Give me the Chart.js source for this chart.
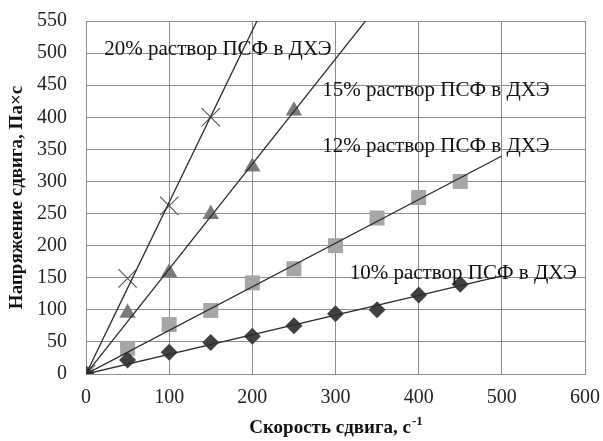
<!DOCTYPE html>
<html>
<head>
  <meta charset="UTF-8">
  <title>Напряжение сдвига</title>
  <script src="https://cdn.jsdelivr.net/npm/chart.js"></script>
  <style>
    html, body { margin: 0; padding: 0; background: #fff; }
    #wrap { width: 603px; height: 441px; }
  </style>
</head>
<body>
  <div id="wrap"><canvas id="myChart" width="603" height="441"></canvas></div>

  <script>
    // скорость сдвига, с-1
    const rate10 = [0, 50, 100, 150, 200, 250, 300, 350, 400, 450];
    const rate12 = [0, 50, 100, 150, 200, 250, 300, 350, 400, 450];
    const rate15 = [0, 50, 100, 150, 200, 250];
    const rate20 = [0, 50, 100, 150];

    // напряжение сдвига, Па×с
    const stress10 = [0, 22, 34, 49, 59, 75, 94, 100, 123, 140];
    const stress12 = [0, 40, 77, 99, 142, 164, 200, 243, 275, 300];
    const stress15 = [0, 95, 158, 249, 323, 410];
    const stress20 = [0, 149, 262, 400];

    const seriesNames = [
      '10% раствор ПСФ в ДХЭ',
      '12% раствор ПСФ в ДХЭ',
      '15% раствор ПСФ в ДХЭ',
      '20% раствор ПСФ в ДХЭ'
    ];

    const trendEndX = 500;

    const FONT = "'Liberation Serif', 'Times New Roman', serif";

    function pts(xs, ys) {
      return xs.map((x, i) => ({ x: x, y: ys[i] }));
    }

    // линейный тренд через начало координат (МНК)
    function trend(xs, ys) {
      let sxy = 0, sxx = 0;
      xs.forEach((x, i) => { sxy += x * ys[i]; sxx += x * x; });
      const k = sxy / sxx;
      return [{ x: 0, y: 0 }, { x: trendEndX, y: k * trendEndX }];
    }

    function markerSet(label, xs, ys, style, color, radius, extra) {
      return Object.assign({
        type: 'scatter',
        label: label,
        data: pts(xs, ys),
        pointStyle: style,
        pointRadius: radius,
        pointHoverRadius: radius,
        backgroundColor: color,
        borderColor: color,
        borderWidth: 0,
        showLine: false,
        order: 1
      }, extra || {});
    }

    function trendSet(xs, ys) {
      return {
        type: 'line',
        data: trend(xs, ys),
        borderColor: '#2b2b2b',
        borderWidth: 1.3,
        pointRadius: 0,
        fill: false,
        order: 0
      };
    }

    // подписи серий на графике
    const labelPlugin = {
      id: 'seriesLabels',
      afterDatasetsDraw(chart) {
        const ctx = chart.ctx;
        const xs = chart.scales.x, ys = chart.scales.y;
        const spots = [
          { text: seriesNames[3], x: 22, y: 506 },
          { text: seriesNames[2], x: 284, y: 441 },
          { text: seriesNames[1], x: 284, y: 355 },
          { text: seriesNames[0], x: 317, y: 157 }
        ];
        ctx.save();
        ctx.font = '21px ' + FONT;
        ctx.fillStyle = '#111';
        ctx.textAlign = 'left';
        ctx.textBaseline = 'middle';
        spots.forEach(s => {
          ctx.fillText(s.text, xs.getPixelForValue(s.x), ys.getPixelForValue(s.y));
        });

        // подпись оси X с верхним индексом
        const main = 'Скорость сдвига, с';
        const sup = '-1';
        ctx.font = 'bold 19px ' + FONT;
        const w1 = ctx.measureText(main).width;
        ctx.font = 'bold 13px ' + FONT;
        const w2 = ctx.measureText(sup).width;
        const cx = (chart.chartArea.left + chart.chartArea.right) / 2;
        const x0 = cx - (w1 + w2) / 2;
        const base = 433;
        ctx.textBaseline = 'alphabetic';
        ctx.font = 'bold 19px ' + FONT;
        ctx.fillText(main, x0, base);
        ctx.font = 'bold 13px ' + FONT;
        ctx.fillText(sup, x0 + w1 + 1, base - 8);
        ctx.restore();
      }
    };

    const ctx = document.getElementById('myChart').getContext('2d');
    const chart = new Chart(ctx, {
      data: {
        datasets: [
          trendSet(rate10, stress10),
          trendSet(rate12, stress12),
          trendSet(rate15, stress15),
          trendSet(rate20, stress20),
          markerSet(seriesNames[0], rate10, stress10, 'rectRot', '#404040', 8.5),
          markerSet(seriesNames[1], rate12, stress12, 'rect', '#a6a6a6', 10.6),
          markerSet(seriesNames[2], rate15, stress15, 'triangle', '#7a7a7a', 9.5),
          markerSet(seriesNames[3], rate20, stress20, 'crossRot', '#555555', 13,
            { borderWidth: 1.1, backgroundColor: 'transparent' })
        ]
      },
      options: {
        responsive: false,
        animation: false,
        layout: { padding: { top: 21, right: 18, left: 0, bottom: 0 } },
        plugins: {
          legend: { display: false },
          tooltip: { enabled: false }
        },
        scales: {
          x: {
            type: 'linear',
            min: 0,
            max: 600,
            ticks: { stepSize: 100, color: '#222', padding: 12, font: { family: FONT, size: 20 } },
            grid: { color: '#8e8e8e', lineWidth: 1, drawTicks: false },
            border: { color: '#8e8e8e' },
            afterFit(scale) {
              scale.height = 67;
              scale.paddingLeft = 0;
              scale.paddingRight = 0;
            }
          },
          y: {
            type: 'linear',
            min: 0,
            max: 550,
            ticks: { stepSize: 50, color: '#222', padding: 19, font: { family: FONT, size: 20 } },
            grid: { color: '#8e8e8e', lineWidth: 1, drawTicks: false },
            border: { color: '#8e8e8e' },
            title: {
              display: true,
              text: 'Напряжение сдвига, Па×с',
              color: '#111',
              padding: { top: 6, bottom: 0 },
              font: { family: FONT, size: 19, weight: 'bold' }
            },
            afterFit(scale) {
              scale.width = 86;
              scale.paddingTop = 0;
              scale.paddingBottom = 0;
            }
          }
        }
      },
      plugins: [labelPlugin]
    });
  </script>
</body>
</html>
